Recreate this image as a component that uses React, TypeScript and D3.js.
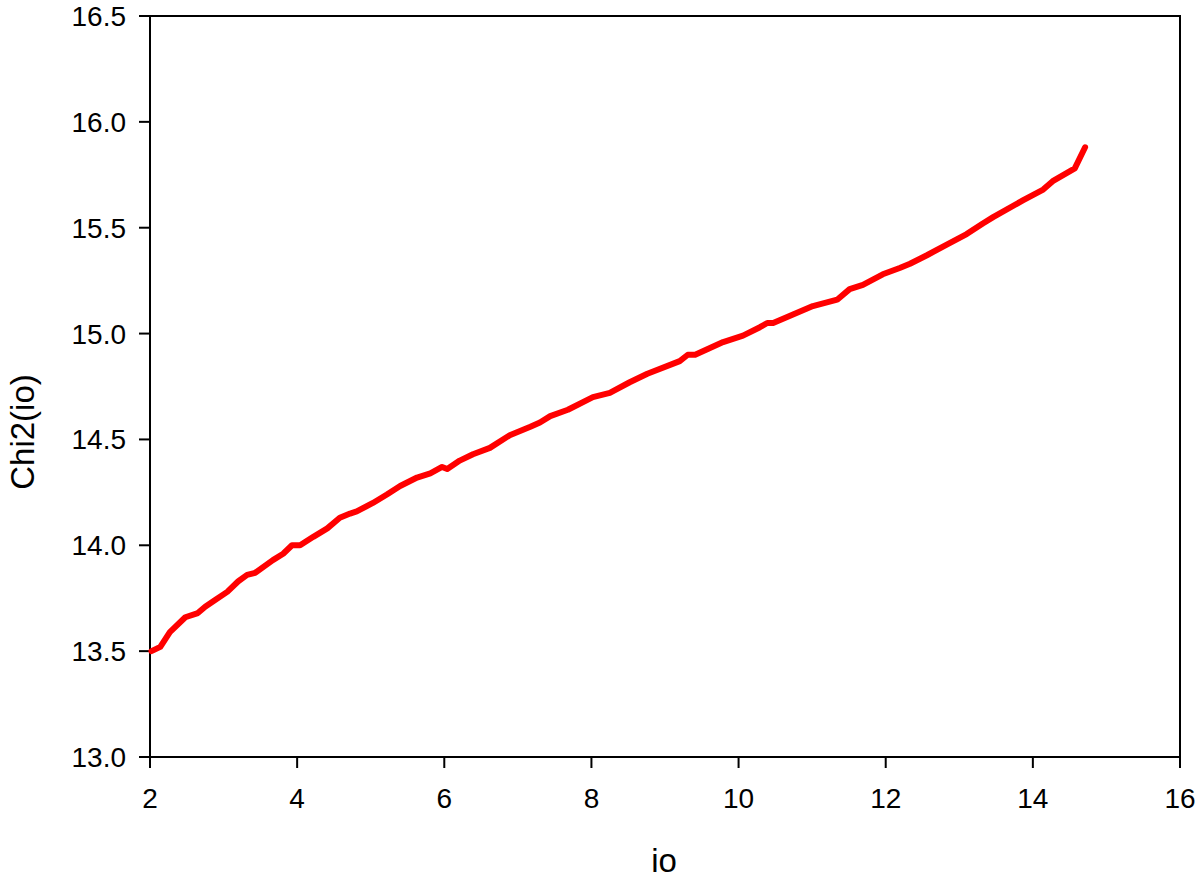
import React from "react";
import * as d3 from "d3";

const ioValues = [2.02, 2.14, 2.27, 2.48, 2.65, 2.75, 2.88, 3.05, 3.2, 3.32, 3.43, 3.67, 3.81, 3.93, 4.04, 4.22, 4.41, 4.58, 4.72, 4.81, 5.03, 5.22, 5.4, 5.63, 5.81, 5.97, 6.04, 6.21, 6.39, 6.62, 6.89, 7.17, 7.3, 7.44, 7.68, 8.02, 8.25, 8.52, 8.76, 9.2, 9.31, 9.41, 9.79, 10.06, 10.29, 10.39, 10.47, 10.74, 11.01, 11.34, 11.51, 11.69, 11.96, 12.19, 12.33, 12.56, 12.83, 13.1, 13.32, 13.46, 13.87, 14.14, 14.27, 14.57, 14.71];
const chi2Values = [13.5, 13.52, 13.59, 13.66, 13.68, 13.71, 13.74, 13.78, 13.83, 13.86, 13.87, 13.93, 13.96, 14.0, 14.0, 14.04, 14.08, 14.13, 14.15, 14.16, 14.2, 14.24, 14.28, 14.32, 14.34, 14.37, 14.36, 14.4, 14.43, 14.46, 14.52, 14.56, 14.58, 14.61, 14.64, 14.7, 14.72, 14.77, 14.81, 14.87, 14.9, 14.9, 14.96, 14.99, 15.03, 15.05, 15.05, 15.09, 15.13, 15.16, 15.21, 15.23, 15.28, 15.31, 15.33, 15.37, 15.42, 15.47, 15.52, 15.55, 15.63, 15.68, 15.72, 15.78, 15.88];
const xTicks = [2, 4, 6, 8, 10, 12, 14, 16];
const yTicks = [13.0, 13.5, 14.0, 14.5, 15.0, 15.5, 16.0, 16.5];

export default function App() {
  const W = 1200, H = 880;
  const left = 150, right = 1180, top = 16, bottom = 757;
  const x = d3.scaleLinear().domain([2, 16]).range([left, right]);
  const y = d3.scaleLinear().domain([13, 16.5]).range([bottom, top]);
  const pts = ioValues.map((v, i) => [v, chi2Values[i]] as [number, number]);
  const line = d3.line<[number, number]>().x(d => x(d[0])).y(d => y(d[1]));
  const font = "Arial, 'Liberation Sans', sans-serif";
  return (
    <svg width={W} height={H} style={{ position: "absolute", left: 0, top: 0, background: "#fff" }} fontFamily={font}>
      <rect x={0} y={0} width={W} height={H} fill="#fff" />
      <rect x={left} y={top} width={right - left} height={bottom - top} fill="none" stroke="#000" strokeWidth={2} />
      {xTicks.map(t => (
        <g key={"x" + t}>
          <line x1={x(t)} x2={x(t)} y1={bottom} y2={bottom + 11} stroke="#000" strokeWidth={2} />
          <text x={x(t)} y={808} textAnchor="middle" fontSize={28} fill="#000">{t}</text>
        </g>
      ))}
      {yTicks.map(t => (
        <g key={"y" + t}>
          <line x1={left - 11} x2={left} y1={y(t)} y2={y(t)} stroke="#000" strokeWidth={2} />
          <text x={126} y={y(t) + 10} textAnchor="end" fontSize={28} fill="#000">{t.toFixed(1)}</text>
        </g>
      ))}
      <path d={line(pts) || ""} fill="none" stroke="#ff0000" strokeWidth={6} strokeLinejoin="round" strokeLinecap="round" />
      <text x={664} y={872} textAnchor="middle" fontSize={33} fill="#000">io</text>
      <text transform="translate(34,432) rotate(-90)" textAnchor="middle" fontSize={33} fill="#000">Chi2(io)</text>
    </svg>
  );
}
